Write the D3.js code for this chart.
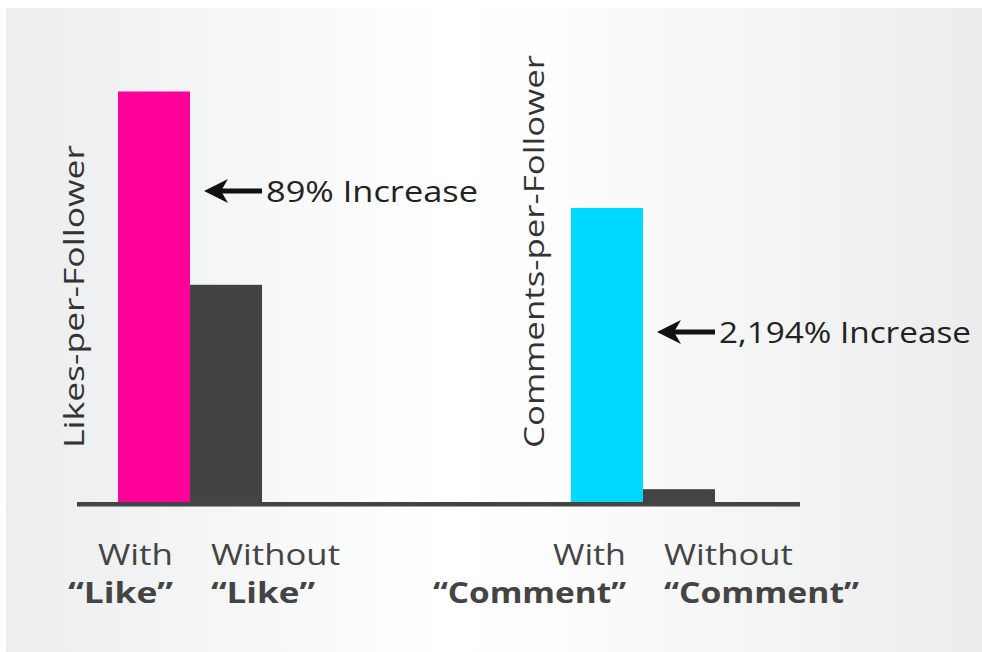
<!DOCTYPE html>
<html>
<head>
<meta charset="utf-8">
<script src="https://cdn.jsdelivr.net/npm/d3@7"></script>
<style>
  html, body { margin: 0; padding: 0; background: #ffffff; }
  svg { display: block; }
</style>
</head>
<body>
<svg id="chart" width="982" height="652"></svg>
<script>
// ---- data ----
const groups = ["Likes", "Comments"];
const conditions = ["With", "Without"];
const likesValues = [1.89, 1.00];          // relative likes-per-follower (89% increase)
const commentsValues = [22.94, 1.00];      // relative comments-per-follower (2,194% increase)
const axisTitles = ["Likes-per-Follower", "Comments-per-Follower"];
const annotations = ["89% Increase", "2,194% Increase"];
const topLabels = [["With", "Without"], ["With", "Without"]];
const bottomLabels = [["\u201CLike\u201D", "\u201CLike\u201D"], ["\u201CComment\u201D", "\u201CComment\u201D"]];

// ---- styles / layout ----
const barColors = [["#ff0198", "#434343"], ["#00d9ff", "#434343"]];
const FONT = "'Open Sans', 'Noto Sans', sans-serif";
const baseY = 502;
// rendered text widths (px) to mimic the wide geometric typeface of the original
const titleLen = [303, 393];
const annLen = [212, 252];
const topLen = [[75, 129], [73, 129]];
const botLen = [[105, 104], [193, 195]];

const svg = d3.select("#chart");
const defs = svg.append("defs");
const grad = defs.append("linearGradient").attr("id", "bg").attr("x1", "0").attr("x2", "1").attr("y1", "0").attr("y2", "0");
grad.append("stop").attr("offset", "0%").attr("stop-color", "#ebedee");
grad.append("stop").attr("offset", "45%").attr("stop-color", "#ffffff");
grad.append("stop").attr("offset", "55%").attr("stop-color", "#fdfdfd");
grad.append("stop").attr("offset", "100%").attr("stop-color", "#ebeced");
svg.append("rect").attr("x", 6).attr("y", 8).attr("width", 976).attr("height", 644).attr("fill", "url(#bg)");

// scales
const xGroup = d3.scaleBand().domain(groups).range([118, 715]).paddingInner(0.682).paddingOuter(0);
const xCond = d3.scaleBand().domain(conditions).range([0, xGroup.bandwidth()]).padding(0);
const yScales = [
  d3.scaleLinear().domain([0, likesValues[0]]).range([baseY, 91.5]),
  d3.scaleLinear().domain([0, commentsValues[0]]).range([baseY, 208])
];
const allValues = [likesValues, commentsValues];

// bars
groups.forEach((g, gi) => {
  const gEl = svg.append("g").attr("transform", `translate(${xGroup(g)},0)`);
  gEl.selectAll("rect").data(allValues[gi]).join("rect")
    .attr("x", (d, i) => xCond(conditions[i]))
    .attr("width", xCond.bandwidth())
    .attr("y", d => yScales[gi](d))
    .attr("height", d => baseY - yScales[gi](d))
    .attr("fill", (d, i) => barColors[gi][i]);
});

// baseline
svg.append("rect").attr("x", 77).attr("y", baseY).attr("width", 723).attr("height", 4.5).attr("fill", "#444444");

// axis titles (rotated)
const titleX = [84, 544];
groups.forEach((g, gi) => {
  svg.append("text")
    .attr("transform", `translate(${titleX[gi]},448) rotate(-90)`)
    .attr("font-family", FONT).attr("font-size", 28).attr("fill", "#333")
    .attr("text-anchor", "start")
    .attr("textLength", titleLen[gi]).attr("lengthAdjust", "spacingAndGlyphs")
    .text(axisTitles[gi]);
});

// annotations with arrows
const annY = [191, 332];
groups.forEach((g, gi) => {
  const x0 = xGroup(g) + xCond("With") + xCond.bandwidth() + 14;
  const y0 = annY[gi];
  const a = svg.append("g").attr("transform", `translate(${x0},${y0})`);
  a.append("rect").attr("x", 14).attr("y", -2.5).attr("width", 44).attr("height", 5).attr("fill", "#111");
  a.append("path").attr("d", "M0,0 L24,-12 L17,0 L24,12 Z").attr("fill", "#111");
  a.append("text").attr("x", 62).attr("y", 11)
    .attr("font-family", FONT).attr("font-size", 29).attr("fill", "#222")
    .attr("textLength", annLen[gi]).attr("lengthAdjust", "spacingAndGlyphs")
    .text(annotations[gi]);
});

// category labels
groups.forEach((g, gi) => {
  const mid = xGroup(g) + xCond("Without");
  [0, 1].forEach(ci => {
    const x = ci === 0 ? mid - 17 : mid + 21;
    const anchor = ci === 0 ? "end" : "start";
    svg.append("text").attr("x", x).attr("y", 565)
      .attr("font-family", FONT).attr("font-size", 29).attr("fill", "#444").attr("text-anchor", anchor)
      .attr("textLength", topLen[gi][ci]).attr("lengthAdjust", "spacingAndGlyphs")
      .text(topLabels[gi][ci]);
    svg.append("text").attr("x", x).attr("y", 603)
      .attr("font-family", FONT).attr("font-size", 29).attr("font-weight", 700).attr("fill", "#444").attr("text-anchor", anchor)
      .attr("textLength", botLen[gi][ci]).attr("lengthAdjust", "spacingAndGlyphs")
      .text(bottomLabels[gi][ci]);
  });
});
</script>
</body>
</html>
